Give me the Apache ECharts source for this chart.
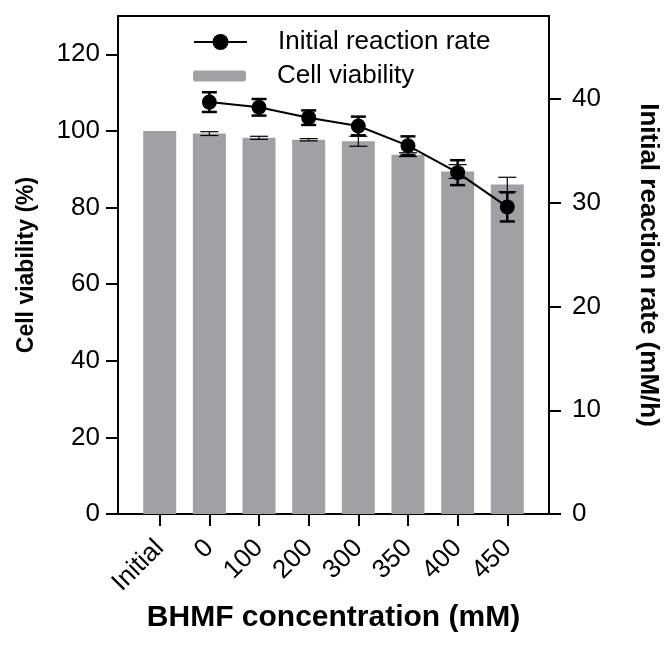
<!DOCTYPE html>
<html>
<head>
    <meta charset="utf-8">
    <title>Cell viability</title>
    <script type="text/javascript" src="https://cdn.jsdelivr.net/npm/echarts@6/dist/echarts.min.js"></script>
    <style>
        body {
            margin: 0px;
            padding: 0px;
        }
        #chart {
            width: 665px;
            height: 661px;
        }
    </style>
</head>
<body>
<div id="chart"></div>
<script type="text/javascript">
    // 横轴类别
    var categories = ['Initial', '0', '100', '200', '300', '350', '400', '450'];
    // 细胞活力 (%)
    var viability = [100, 99.3, 98.2, 97.7, 97.3, 93.8, 89.4, 86.0];
    var viabilityErr = [0, 0.5, 0.4, 0.3, 1.3, 0.5, 1.8, 1.9];
    // 初始反应速率 (mM/h)，Initial 没有值
    var rateIdx = [1, 2, 3, 4, 5, 6, 7];
    var rate = [39.7, 39.2, 38.2, 37.4, 35.5, 32.9, 29.6];
    var rateErr = [0.95, 0.8, 0.7, 0.9, 0.9, 1.2, 1.4];
    var leftTicks = [0, 20, 40, 60, 80, 100, 120];
    var rightTicks = [0, 10, 20, 30, 40];

    var font = 'Arial, "Liberation Sans", sans-serif';
    var tickPos = [];
    for (var i = 0; i < categories.length; i++) tickPos.push(i);

    var barData = [], barErrData = [], lineData = [], lineErrData = [];
    for (var i = 0; i < viability.length; i++) {
        barData.push([i, viability[i]]);
        if (viabilityErr[i] > 0) barErrData.push([i, viability[i] - viabilityErr[i], viability[i] + viabilityErr[i]]);
    }
    for (var i = 0; i < rate.length; i++) {
        lineData.push([rateIdx[i], rate[i]]);
        lineErrData.push([rateIdx[i], rate[i] - rateErr[i], rate[i] + rateErr[i]]);
    }

    function errorBar(capW, lw) {
        return function (params, api) {
            var x = api.value(0);
            var lo = api.coord([x, api.value(1)]);
            var hi = api.coord([x, api.value(2)]);
            var st = {stroke: '#000', lineWidth: lw};
            return {
                type: 'group',
                children: [
                    {type: 'line', shape: {x1: lo[0], y1: lo[1], x2: hi[0], y2: hi[1]}, style: st},
                    {type: 'line', shape: {x1: lo[0] - capW / 2, y1: lo[1], x2: lo[0] + capW / 2, y2: lo[1]}, style: st},
                    {type: 'line', shape: {x1: hi[0] - capW / 2, y1: hi[1], x2: hi[0] + capW / 2, y2: hi[1]}, style: st}
                ]
            };
        };
    }

    var chart = echarts.init(document.getElementById('chart'));
    var axisLine = {show: true, onZero: false, lineStyle: {color: '#000', width: 2}};
    var tick = {show: true, length: 12, lineStyle: {color: '#000', width: 2}};
    var option = {
        animation: false,
        textStyle: {fontFamily: font},
        grid: {left: 118, right: 116, top: 16, bottom: 147, outerBoundsMode: 'none', containLabel: false},
        legend: [
            {
                data: ['Initial reaction rate'],
                left: 188, top: 24,
                itemWidth: 53, itemHeight: 20,
                textStyle: {fontSize: 26, color: '#000', fontFamily: font, padding: [0, 0, 0, 26]}
            },
            {
                data: ['Cell viability'],
                left: 188, top: 58,
                itemWidth: 53, itemHeight: 11,
                textStyle: {fontSize: 26, color: '#000', fontFamily: font, padding: [0, 0, 0, 26]}
            }
        ],
        xAxis: [
            {
                type: 'value', min: -0.84, max: 7.84,
                name: 'BHMF concentration (mM)', nameLocation: 'middle', nameGap: 87,
                nameTextStyle: {fontSize: 30, fontWeight: 'bold', color: '#000', fontFamily: font},
                axisLine: axisLine,
                axisTick: Object.assign({customValues: tickPos}, tick),
                axisLabel: {
                    customValues: tickPos, rotate: 45, fontSize: 26, color: '#000', margin: 30,
                    formatter: function (v) { return categories[Math.round(v)]; }
                },
                splitLine: {show: false}
            },
            {
                type: 'value', min: -0.84, max: 7.84, position: 'top',
                axisLine: axisLine, axisTick: {show: false}, axisLabel: {show: false}, splitLine: {show: false}
            }
        ],
        yAxis: [
            {
                type: 'value', min: 0, max: 130, position: 'left',
                name: 'Cell viability (%)', nameLocation: 'middle', nameGap: 80,
                nameTextStyle: {fontSize: 23, fontWeight: 'bold', color: '#000', fontFamily: font},
                axisLine: axisLine,
                axisTick: Object.assign({customValues: leftTicks}, tick),
                axisLabel: {customValues: leftTicks, fontSize: 26, color: '#000', margin: 18},
                splitLine: {show: false}
            },
            {
                type: 'value', min: 0, max: 48, position: 'right',
                name: 'Initial reaction rate (mM/h)', nameLocation: 'middle', nameGap: 86, nameRotate: -90,
                nameTextStyle: {fontSize: 26, fontWeight: 'bold', color: '#000', fontFamily: font},
                axisLine: axisLine,
                axisTick: Object.assign({customValues: rightTicks}, tick),
                axisLabel: {customValues: rightTicks, fontSize: 26, color: '#000', margin: 23},
                splitLine: {show: false}
            }
        ],
        series: [
            {
                name: 'Cell viability', type: 'bar', data: barData, barWidth: 33,
                itemStyle: {color: '#a1a0a5'}, z: 1
            },
            {
                name: 'bar err', type: 'custom', data: barErrData, renderItem: errorBar(18, 1.2), z: 2
            },
            {
                name: 'rate err', type: 'custom', data: lineErrData, yAxisIndex: 1,
                renderItem: errorBar(15, 2.5), z: 3
            },
            {
                name: 'Initial reaction rate', type: 'line', data: lineData, yAxisIndex: 1,
                symbol: 'circle', symbolSize: 15,
                itemStyle: {color: '#000'}, lineStyle: {color: '#000', width: 2}, z: 4
            }
        ]
    };
    chart.setOption(option);
</script>
</body>
</html>
